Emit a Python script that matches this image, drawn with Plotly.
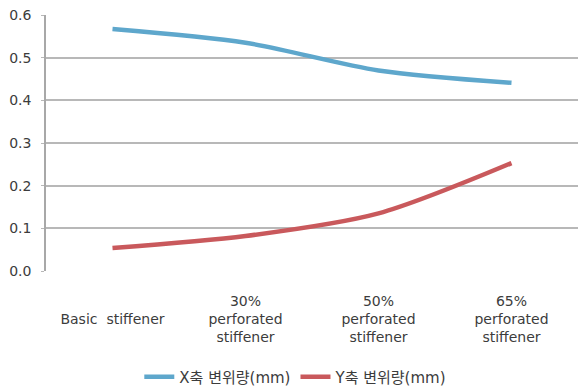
import plotly.graph_objects as go

categories = [" <br>Basic  stiffener", "30%<br>perforated<br>stiffener",
              "50%<br>perforated<br>stiffener", "65%<br>perforated<br>stiffener"]
x_disp = [0.567, 0.535, 0.470, 0.441]
y_disp = [0.054, 0.082, 0.135, 0.253]
series_names = ["X축 변위량(mm)", "Y축 변위량(mm)"]
y_ticks = [0.0, 0.1, 0.2, 0.3, 0.4, 0.5, 0.6]

font_family = "DejaVu Sans, Noto Sans CJK KR"

fig = go.Figure()
fig.add_trace(go.Scatter(x=categories, y=x_disp, name=series_names[0], mode="lines",
                         line=dict(color="#5ea7cc", width=4.5, shape="spline", smoothing=0.8)))
fig.add_trace(go.Scatter(x=categories, y=y_disp, name=series_names[1], mode="lines",
                         line=dict(color="#c9595c", width=4.5, shape="spline", smoothing=0.8)))

fig.update_layout(
    width=580, height=389,
    margin=dict(l=46, r=2, t=15, b=118, autoexpand=False),
    paper_bgcolor="white", plot_bgcolor="white",
    font=dict(family=font_family, size=14, color="#3c3c3c"),
    showlegend=True,
    legend=dict(orientation="h", x=0.51, xanchor="center", xref="container",
                y=12/389, yanchor="middle", yref="container",
                font=dict(size=15, color="#3c3c3c", family=font_family),
                itemwidth=30, tracegroupgap=0),
)
fig.update_xaxes(type="category", showgrid=False, showline=False, zeroline=False,
                 ticks="", tickfont=dict(size=14, color="#3c3c3c", family=font_family),
                 range=[-0.5, 3.5], automargin=False, ticklabelstandoff=20)
fig.update_yaxes(range=[0, 0.6], tickvals=y_ticks, ticktext=[f"{v:.1f}" for v in y_ticks],
                 showgrid=True, gridcolor="#b8b8b8", gridwidth=1.5,
                 showline=True, linecolor="#a8a8a8", linewidth=1.5,
                 ticks="outside", ticklen=3, tickcolor="#b8b8b8", automargin=False,
                 ticklabelstandoff=7,
                 zeroline=False, tickfont=dict(size=14, color="#3c3c3c", family=font_family))

fig.write_html("out.html", config={"displayModeBar": False},
               post_script="document.body.style.margin='0';")
